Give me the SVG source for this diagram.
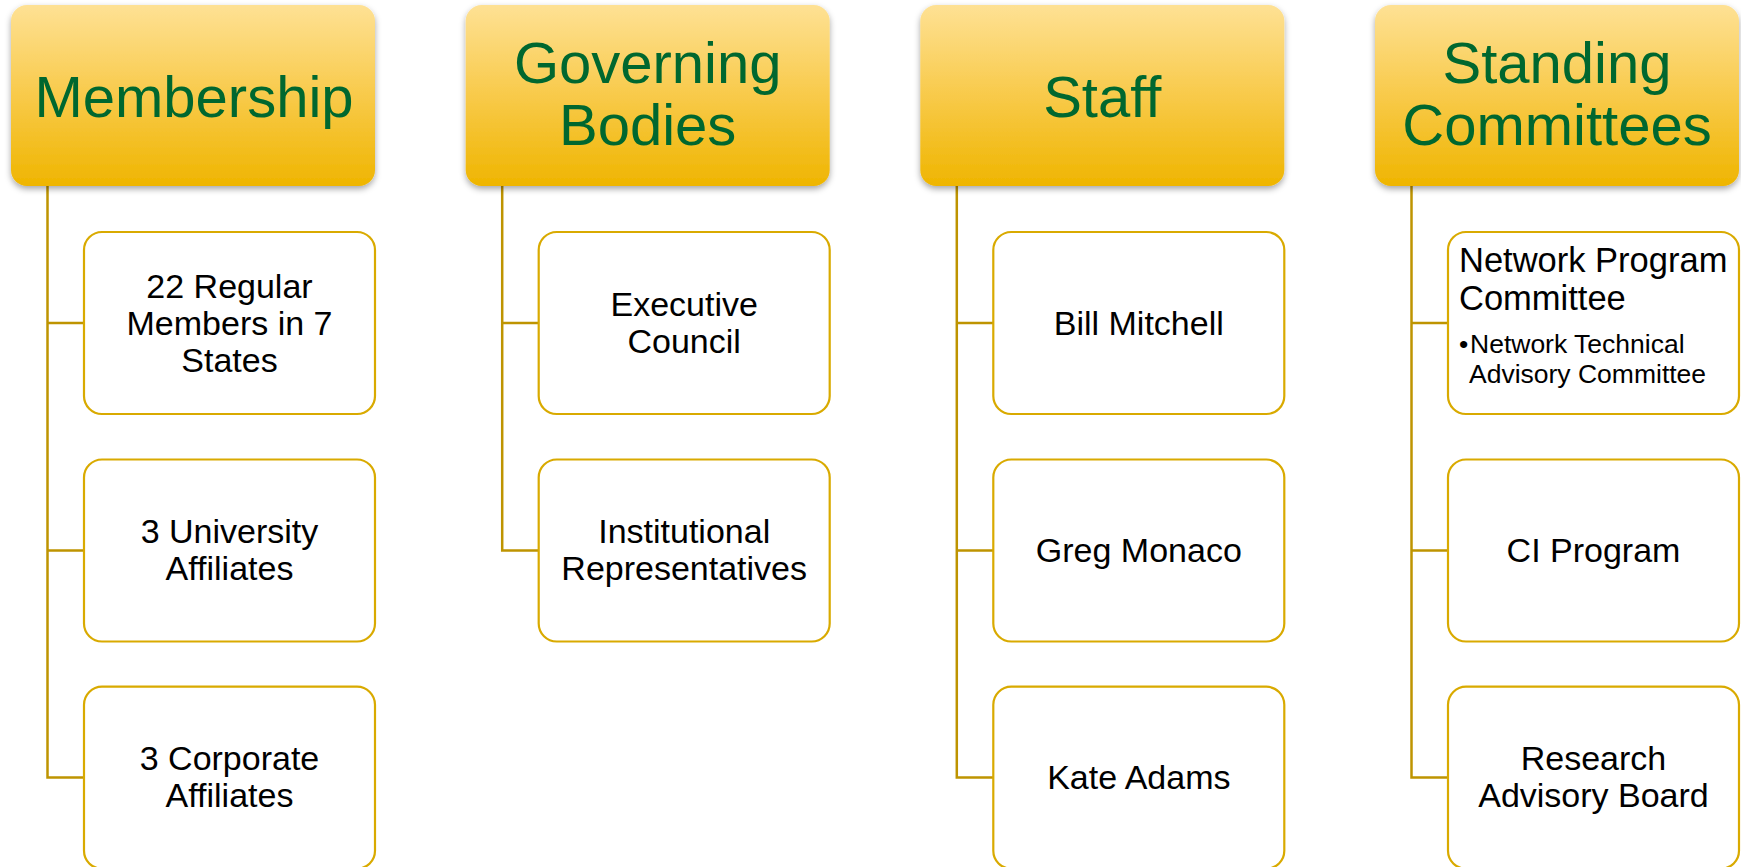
<svg xmlns="http://www.w3.org/2000/svg" width="1741" height="867" viewBox="0 0 1741 867">
<defs>
<linearGradient id="hg" x1="0" y1="0" x2="0" y2="1">
<stop offset="0" stop-color="#FEE194"/>
<stop offset="0.5" stop-color="#F8CA4A"/>
<stop offset="1" stop-color="#EFB500"/>
</linearGradient>
<filter id="sh" x="-10%" y="-10%" width="120%" height="130%">
<feDropShadow dx="0" dy="3" stdDeviation="3" flood-color="#000" flood-opacity="0.35"/>
</filter>
<style>
.hdr{fill:url(#hg);filter:url(#sh);}
.ht{font-family:"Liberation Sans",Arial,sans-serif;font-size:58px;fill:#00672F;text-anchor:middle;}
.box{fill:#fff;stroke:#D9AA00;stroke-width:2.2;}
.bt{font-family:"Liberation Sans",Arial,sans-serif;font-size:34px;fill:#000;text-anchor:middle;}
.st{font-family:"Liberation Sans",Arial,sans-serif;font-size:26.5px;fill:#000;}
.lt{font-family:"Liberation Sans",Arial,sans-serif;font-size:34.5px;fill:#000;}
.con{fill:none;stroke:#BE9400;stroke-width:2.5;}
</style>
</defs>
<rect width="1741" height="867" fill="#fff"/>
<g id="connectors">
<path class="con" d="M47.5 186 V777.5 H84 M47.5 323 H84 M47.5 550.5 H84"/>
<path class="con" d="M502.2 186 V550.5 H538.7 M502.2 323 H538.7"/>
<path class="con" d="M956.8 186 V777.5 H993.3 M956.8 323 H993.3 M956.8 550.5 H993.3"/>
<path class="con" d="M1411.5 186 V777.5 H1448 M1411.5 323 H1448 M1411.5 550.5 H1448"/>
</g>
<g id="h-membership">
<rect class="hdr" x="11" y="5" width="364" height="181" rx="16"/>
<text class="ht" x="194" y="117">Membership</text>
</g>
<g id="h-governing">
<rect class="hdr" x="465.7" y="5" width="364" height="181" rx="16"/>
<text class="ht" x="647.7" y="83.3">Governing</text>
<text class="ht" x="647.7" y="145">Bodies</text>
</g>
<g id="h-staff">
<rect class="hdr" x="920.3" y="5" width="364" height="181" rx="16"/>
<text class="ht" x="1102.3" y="116.5">Staff</text>
</g>
<g id="h-standing">
<rect class="hdr" x="1375" y="5" width="364" height="181" rx="16"/>
<text class="ht" x="1557" y="83.3">Standing</text>
<text class="ht" x="1557" y="145">Committees</text>
</g>
<g id="n-regular">
<rect class="box" x="84" y="232" width="291" height="182" rx="18"/>
<text class="bt" x="229.5" y="297.5">22 Regular</text>
<text class="bt" x="229.5" y="334.5">Members in 7</text>
<text class="bt" x="229.5" y="371.5">States</text>
</g>
<g id="n-university">
<rect class="box" x="84" y="459.5" width="291" height="182" rx="18"/>
<text class="bt" x="229.5" y="543">3 University</text>
<text class="bt" x="229.5" y="580">Affiliates</text>
</g>
<g id="n-corporate">
<rect class="box" x="84" y="686.7" width="291" height="182" rx="18"/>
<text class="bt" x="229.5" y="770">3 Corporate</text>
<text class="bt" x="229.5" y="807">Affiliates</text>
</g>
<g id="n-executive">
<rect class="box" x="538.7" y="232" width="291" height="182" rx="18"/>
<text class="bt" x="684.2" y="315.5">Executive</text>
<text class="bt" x="684.2" y="352.5">Council</text>
</g>
<g id="n-institutional">
<rect class="box" x="538.7" y="459.5" width="291" height="182" rx="18"/>
<text class="bt" x="684.2" y="543">Institutional</text>
<text class="bt" x="684.2" y="580">Representatives</text>
</g>
<g id="n-bill">
<rect class="box" x="993.3" y="232" width="291" height="182" rx="18"/>
<text class="bt" x="1138.8" y="334.5">Bill Mitchell</text>
</g>
<g id="n-greg">
<rect class="box" x="993.3" y="459.5" width="291" height="182" rx="18"/>
<text class="bt" x="1138.8" y="562">Greg Monaco</text>
</g>
<g id="n-kate">
<rect class="box" x="993.3" y="686.7" width="291" height="182" rx="18"/>
<text class="bt" x="1138.8" y="789">Kate Adams</text>
</g>
<g id="n-network">
<rect class="box" x="1448" y="232" width="291" height="182" rx="18"/>
<text class="lt" x="1459" y="271.7">Network Program</text>
<text class="lt" x="1459" y="310">Committee</text>
<text class="st" x="1459" y="352.7">•</text>
<text class="st" x="1470" y="352.7">Network Technical</text>
<text class="st" x="1469" y="382.7">Advisory Committee</text>
</g>
<g id="n-ci">
<rect class="box" x="1448" y="459.5" width="291" height="182" rx="18"/>
<text class="bt" x="1593.5" y="562">CI Program</text>
</g>
<g id="n-research">
<rect class="box" x="1448" y="686.7" width="291" height="182" rx="18"/>
<text class="bt" x="1593.5" y="770">Research</text>
<text class="bt" x="1593.5" y="807">Advisory Board</text>
</g>
</svg>
